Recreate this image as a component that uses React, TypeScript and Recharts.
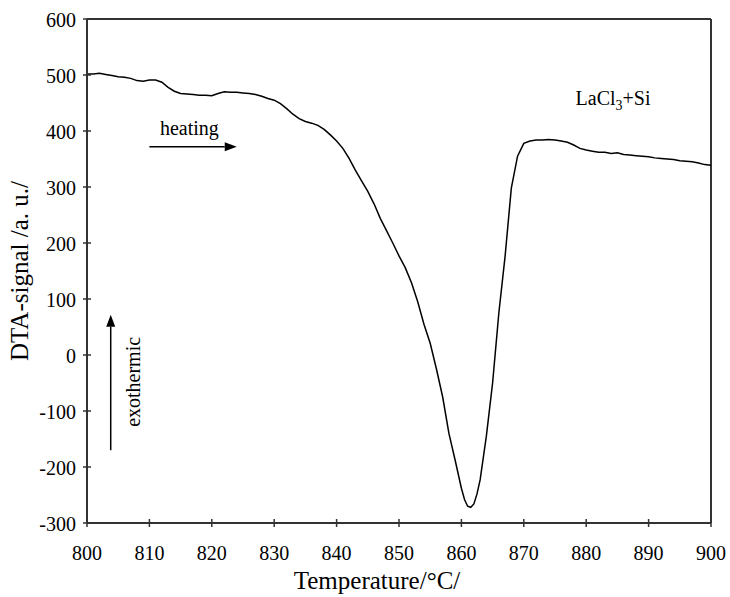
import {
  LineChart,
  Line,
  XAxis,
  YAxis,
  ReferenceLine,
  ReferenceDot,
} from "recharts";

// temperature (°C) and DTA signal
const temps = [
  800, 801, 802, 803, 804, 805, 806, 807, 808, 809,
  810, 811, 812, 813, 814, 815, 816, 817, 818, 819,
  820, 821, 822, 823, 824, 825, 826, 827, 828, 829,
  830, 831, 832, 833, 834, 835, 836, 837, 838, 839,
  840, 841, 842, 843, 844, 845, 846, 847, 848, 849,
  850, 851, 852, 853, 854, 855, 856, 857, 858, 859,
  860, 860.5, 861, 861.5, 862, 862.5, 863, 864, 865, 866,
  867, 868, 869, 870, 871, 872, 873, 874, 875, 876,
  877, 878, 879, 880, 881, 882, 883, 884, 885, 886,
  887, 888, 889, 890, 891, 892, 893, 894, 895, 896,
  897, 898, 899, 900,
];

const signal = [
  502, 502, 503, 501, 499, 497, 496, 494, 490, 489,
  491, 491, 487, 478, 471, 467, 466, 465, 464, 464,
  463, 467, 470, 469, 469, 468, 467, 465, 462, 458,
  455, 449, 440, 430, 422, 417, 414, 410, 403, 393,
  382, 369, 351, 330, 311, 292, 270, 244, 222, 200,
  177, 156, 129, 95, 55, 21, -25, -75, -140, -188,
  -238, -258, -270, -272, -266, -248, -223, -145, -50, 75,
  176, 298, 355, 378, 382, 384, 384, 385, 384, 382,
  380, 375, 369, 366, 364, 362, 362, 360, 361, 358,
  357, 356, 355, 354, 352, 351, 350, 349, 347, 346,
  345, 343, 340, 339,
];

const xTicks = [800, 810, 820, 830, 840, 850, 860, 870, 880, 890, 900];
const yTicks = [-300, -200, -100, 0, 100, 200, 300, 400, 500, 600];

const data = temps.map((t, i) => ({ t, v: signal[i] }));

const FONT = '"Liberation Serif", "Times New Roman", serif';
const AXIS = "#333";
const txt = { fontFamily: FONT };

function yTick(p: any) {
  const { x, y, payload } = p;
  return (
    <g key={`y${payload.value}`}>
      <line x1={x - 4} x2={x + 4} y1={y} y2={y} stroke={AXIS} strokeWidth={1.5} />
      <text x={x - 11} y={y + 8} textAnchor="end" fontSize={20} style={txt} fill="#000">
        {payload.value}
      </text>
    </g>
  );
}

function xTick(p: any) {
  const { x, y, payload } = p;
  return (
    <g key={`x${payload.value}`}>
      <line x1={x} x2={x} y1={y - 4} y2={y + 4} stroke={AXIS} strokeWidth={1.5} />
      <text x={x} y={y + 37} textAnchor="middle" fontSize={20} style={txt} fill="#000">
        {payload.value}
      </text>
    </g>
  );
}

function Arrow(p: any) {
  const { x1, y1, x2, y2 } = p;
  const a = Math.atan2(y2 - y1, x2 - x1);
  const L = 12;
  const W = 4.5;
  const bx = x2 - L * Math.cos(a);
  const by = y2 - L * Math.sin(a);
  const pts = [
    `${x2},${y2}`,
    `${bx + W * Math.sin(a)},${by - W * Math.cos(a)}`,
    `${bx - W * Math.sin(a)},${by + W * Math.cos(a)}`,
  ].join(" ");
  return (
    <g>
      <line x1={x1} y1={y1} x2={bx} y2={by} stroke="#000" strokeWidth={1.5} />
      <polygon points={pts} fill="#000" />
    </g>
  );
}

export default function App() {
  return (
    <div style={{ position: "absolute", left: 0, top: 0, background: "#fff", fontFamily: FONT }}>
      <LineChart
        width={730}
        height={597}
        data={data}
        margin={{ top: 19, right: 19, bottom: 0, left: 0 }}
        style={txt}
      >
        <XAxis
          dataKey="t"
          type="number"
          domain={[800, 900]}
          ticks={xTicks}
          height={74}
          tickSize={0}
          tickMargin={0}
          tickLine={false}
          axisLine={{ stroke: AXIS, strokeWidth: 2 }}
          tick={xTick}
          label={{
            content: (props: any) => {
              const vb = props.viewBox;
              return (
                <text x={vb.x + 290} y={vb.y + 66} textAnchor="middle" fontSize={25} style={txt} fill="#000">
                  Temperature/°C/
                </text>
              );
            },
          }}
        />
        <YAxis
          type="number"
          domain={[-300, 600]}
          ticks={yTicks}
          width={87}
          tickSize={0}
          tickMargin={0}
          tickLine={false}
          axisLine={{ stroke: AXIS, strokeWidth: 2 }}
          tick={yTick}
          label={{
            content: (props: any) => {
              const vb = props.viewBox;
              const cx = vb.x + 28;
              const cy = vb.y + vb.height / 2;
              return (
                <text
                  x={cx}
                  y={cy}
                  textAnchor="middle"
                  fontSize={25}
                  style={txt}
                  fill="#000"
                  transform={`rotate(-90, ${cx}, ${cy})`}
                >
                  DTA-signal /a. u./
                </text>
              );
            },
          }}
        />
        <ReferenceLine y={600} stroke={AXIS} strokeWidth={2} />
        <ReferenceLine x={900} stroke={AXIS} strokeWidth={2} />

        <ReferenceLine
          segment={[{ x: 810, y: 372 }, { x: 824, y: 372 }]}
          shape={Arrow}
        />
        <ReferenceLine
          segment={[{ x: 803.8, y: -170 }, { x: 803.8, y: 72 }]}
          shape={Arrow}
        />
        <ReferenceDot
          x={816.4}
          y={393}
          r={0}
          shape={(p: any) => (
            <text x={p.cx} y={p.cy} textAnchor="middle" fontSize={20} style={txt} fill="#000">
              heating
            </text>
          )}
        />
        <ReferenceDot
          x={884.3}
          y={446}
          r={0}
          shape={(p: any) => (
            <text x={p.cx} y={p.cy} textAnchor="middle" fontSize={20} style={txt} fill="#000">
              LaCl
              <tspan fontSize={14} dy={5}>3</tspan>
              <tspan dy={-5}>+Si</tspan>
            </text>
          )}
        />
        <ReferenceDot
          x={808.5}
          y={-48}
          r={0}
          shape={(p: any) => (
            <text
              x={p.cx}
              y={p.cy}
              textAnchor="middle"
              fontSize={20}
              style={txt}
              fill="#000"
              transform={`rotate(-90, ${p.cx}, ${p.cy})`}
            >
              exothermic
            </text>
          )}
        />

        <Line
          type="linear"
          dataKey="v"
          stroke="#000"
          strokeWidth={1.5}
          dot={false}
          isAnimationActive={false}
        />
      </LineChart>
    </div>
  );
}
